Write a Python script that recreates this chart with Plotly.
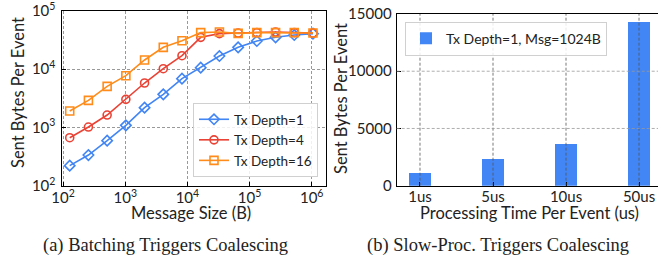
import plotly.graph_objects as go

# ---- data ----
msg_sizes = [128, 256, 512, 1024, 2048, 4096, 8192, 16384, 32768, 65536,
             131072, 262144, 524288, 1048576]
depth1 = [221, 336, 593, 1087, 2188, 3705, 6880, 10640, 16870, 23770,
          30520, 35300, 38700, 40800]
depth4 = [667, 1018, 1636, 3040, 5800, 10220, 17090, 35300, 40800, 41900,
          42500, 43600, 42500, 41900]
depth16 = [1916, 2922, 5085, 7750, 14400, 23770, 30900, 42500, 43600, 41300,
           42500, 42500, 42500, 41900]

proc_times = ["1us", "5us", "10us", "50us"]
proc_bytes = [1100, 2320, 3630, 14330]

x_log_ticks = [100, 1000, 10000, 100000, 1000000]
x_log_ticktext = ["10<sup>2</sup>", "10<sup>3</sup>", "10<sup>4</sup>", "10<sup>5</sup>", "10<sup>6</sup>"]
y_log_ticks = [100, 1000, 10000, 100000]
y_log_ticktext = ["10<sup>2</sup>", "10<sup>3</sup>", "10<sup>4</sup>", "10<sup>5</sup>"]
y_bar_ticks = [0, 5000, 10000, 15000]
y_bar_ticktext = ["0", "5000", "10000", "15000"]

BLUE = "#4285f4"
RED = "#ea4335"
ORANGE = "#ff8c1a"
FONT = "Lato"
W, H = 658, 266

fig = go.Figure()

series = [("Tx Depth=1", depth1, BLUE, "diamond-open"),
          ("Tx Depth=4", depth4, RED, "circle-open"),
          ("Tx Depth=16", depth16, ORANGE, "square-open")]
for name, ys, col, sym in series:
    fig.add_trace(go.Scatter(
        x=msg_sizes, y=ys, name=name, mode="lines+markers",
        line=dict(color=col, width=1.6),
        marker=dict(symbol=sym, size=8, color=col, line=dict(width=1.6, color=col)),
        xaxis="x", yaxis="y", legend="legend"))

fig.add_trace(go.Bar(
    x=list(range(len(proc_times))), y=proc_bytes, name="Tx Depth=1, Msg=1024B",
    marker=dict(color=BLUE, line=dict(width=0)), width=0.3,
    xaxis="x2", yaxis="y2", legend="legend2"))

def px_x(p):
    return p / W

def px_y(p):
    return (H - p) / H

axis_common = dict(showline=True, linecolor="black", linewidth=1.2, mirror=True,
                   ticks="inside", ticklen=4, tickwidth=1.2, tickcolor="black",
                   zeroline=False, automargin=False, ticklabeloverflow="allow",
                   tickfont=dict(family=FONT, size=15, color="#222"))

GRIDCOL = "#999999"
grid = dict(showgrid=True, gridcolor=GRIDCOL, gridwidth=0.8, griddash="3px,2px")

fig.update_layout(
    width=W, height=H, margin=dict(l=0, r=0, t=0, b=0, autoexpand=False),
    paper_bgcolor="white", plot_bgcolor="white",
    font=dict(family=FONT, size=15, color="#222"),
    xaxis=dict(domain=[px_x(61.5), px_x(326)], type="log", range=[1.975, 6.23],
               tickvals=x_log_ticks, ticktext=x_log_ticktext, anchor="y",
               ticklabelstandoff=-2, **axis_common, **grid),
    yaxis=dict(domain=[px_y(185.7), px_y(11)], type="log", range=[1.99999, 5.00001],
               tickvals=y_log_ticks, ticktext=y_log_ticktext, anchor="x",
               ticklabelstandoff=2, **axis_common, **grid),
    xaxis2=dict(domain=[px_x(396.7), 1.0], range=[-0.319, 3.26],
                tickvals=list(range(len(proc_times))), ticktext=proc_times,
                anchor="y2", showgrid=False, ticklabelstandoff=-3, **axis_common),
    yaxis2=dict(domain=[px_y(185.7), px_y(14)], range=[0, 15000],
                tickvals=y_bar_ticks, ticktext=y_bar_ticktext, anchor="x2", showgrid=False,
                ticklabelstandoff=1, **axis_common),
    legend=dict(x=px_x(318), y=px_y(177), xanchor="right", yanchor="bottom",
                bgcolor="rgba(255,255,255,0.85)", bordercolor="#d0d0d0", borderwidth=1,
                font=dict(family=FONT, size=13.5), tracegroupgap=0, itemwidth=30),
    legend2=dict(x=px_x(405), y=px_y(21.7), xanchor="left", yanchor="top",
                 bgcolor="rgba(255,255,255,0.85)", bordercolor="#d0d0d0", borderwidth=1,
                 font=dict(family=FONT, size=14), itemwidth=30),
    bargap=0,
)

# grid drawn above bars on the right panel (from tick arrays)
shapes = []
for i in range(len(proc_times)):
    shapes.append(dict(type="line", xref="x2", yref="y2 domain", x0=i, x1=i, y0=0, y1=1,
                       line=dict(color="#555555", width=0.8, dash="3px,2px"), layer="above"))
for v in y_bar_ticks[1:-1]:
    shapes.append(dict(type="line", xref="x2 domain", yref="y2", x0=0, x1=1, y0=v, y1=v,
                       line=dict(color=GRIDCOL, width=0.8, dash="3px,2px"), layer="above"))
fig.update_layout(shapes=shapes)

ann = [
    dict(text="Sent Bytes Per Event", x=px_x(18), y=px_y(93), textangle=-90),
    dict(text="Message Size (B)", x=px_x(191), y=px_y(212.5)),
    dict(text="Sent Bytes Per Event", x=px_x(341), y=px_y(98), textangle=-90),
    dict(text="Processing Time Per Event (us)", x=px_x(529), y=px_y(213.5)),
]
annotations = []
for a in ann:
    annotations.append(dict(xref="paper", yref="paper", showarrow=False,
                            xanchor="center", yanchor="middle",
                            font=dict(family=FONT, size=16.5, color="#222"), **a))
for text, cx in [("(a) Batching Triggers Coalescing", 165),
                 ("(b) Slow-Proc. Triggers Coalescing", 498)]:
    annotations.append(dict(text=text, x=px_x(cx), y=px_y(245),
                            xref="paper", yref="paper", showarrow=False,
                            xanchor="center", yanchor="middle",
                            font=dict(family="Liberation Serif", size=18.5, color="#222")))
fig.update_layout(annotations=annotations)

fig.write_html("out.html", config={"displayModeBar": False},
               post_script="document.body.style.margin='0';document.body.style.overflow='hidden';")
